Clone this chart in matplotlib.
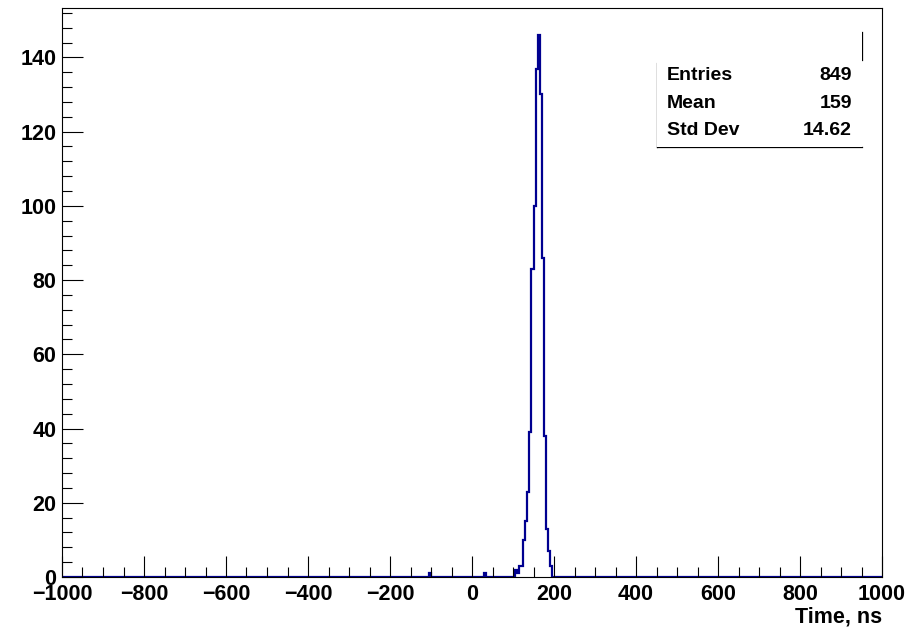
import numpy as np
import matplotlib.pyplot as plt
from matplotlib.ticker import MultipleLocator

plt.rcParams['font.family'] = ['Liberation Sans', 'DejaVu Sans']

# Histogram: 400 bins of 5 ns from -1000 to 1000; only non-empty bins listed
x_min, x_max, bin_width = -1000, 1000, 5
bin_low = [-105, 30, 105, 110, 115, 120, 125, 130, 135, 140, 145, 150, 155,
           160, 165, 170, 175, 180, 185, 190]
counts_nz = [1, 1, 2, 1, 3, 3, 10, 15, 23, 39, 83, 100, 137,
             146, 130, 86, 38, 13, 7, 3]

stat_names = ["Entries", "Mean", "Std Dev"]
stat_values = ["849", "159", "14.62"]

x_ticks = [-1000, -800, -600, -400, -200, 0, 200, 400, 600, 800, 1000]
y_ticks = [0, 20, 40, 60, 80, 100, 120, 140]

edges = np.arange(x_min, x_max + bin_width, bin_width)
counts = np.zeros(len(edges) - 1)
for lo, c in zip(bin_low, counts_nz):
    counts[int(round((lo - x_min) / bin_width))] = c

fig = plt.figure(figsize=(9.12, 6.27), dpi=100)
ax = fig.add_axes([62/912, 1-577/627, 820/912, 569/627])

ax.stairs(counts, edges, color='#000090', linewidth=1.6)
ax.set_xlim(x_min, x_max)
ax.set_ylim(0, max(counts_nz) * 1.05)

ax.set_xticks(x_ticks)
ax.set_yticks(y_ticks)
ax.xaxis.set_minor_locator(MultipleLocator(50))
ax.yaxis.set_minor_locator(MultipleLocator(4))
ax.tick_params(which='both', direction='in', top=False, right=False, width=0.8, color='black')
ax.tick_params(which='major', axis='x', length=15, pad=5)
ax.tick_params(which='minor', axis='x', length=7)
ax.tick_params(which='major', axis='y', length=15, pad=4)
ax.tick_params(which='minor', axis='y', length=7)
for lab in ax.get_xticklabels() + ax.get_yticklabels():
    lab.set_fontsize(15.5)
    lab.set_fontweight('bold')
for s in ax.spines.values():
    s.set_linewidth(0.8)

fig.text(882/912, 1-617/627, "Time, ns", ha='right', va='center', fontsize=15.5, fontweight='bold')

# Stats box
bx0, bx1, by0, by1 = 657/912, 862/912, 1-147/627, 1-32/627
fig.patches.append(plt.Rectangle((bx0, by0), bx1-bx0, by1-by0, transform=fig.transFigure,
                                 facecolor='white', edgecolor='none', zorder=3))
fig.add_artist(plt.Line2D([bx0, bx0], [by0, 1-63/627], color='black', lw=0.9, transform=fig.transFigure))
fig.add_artist(plt.Line2D([bx0, bx1], [by0, by0], color='black', lw=0.9, transform=fig.transFigure))
fig.add_artist(plt.Line2D([bx1, bx1], [1-60/627, by1], color='black', lw=0.9, transform=fig.transFigure))
for i, (n, v) in enumerate(zip(stat_names, stat_values)):
    yy = 1 - (75 + 28 * i) / 627
    fig.text(667/912, yy, n, ha='left', va='center', fontsize=14, fontweight='bold', zorder=4)
    fig.text(852/912, yy, v, ha='right', va='center', fontsize=14, fontweight='bold', zorder=4)

fig.savefig("out.png", dpi=100)
